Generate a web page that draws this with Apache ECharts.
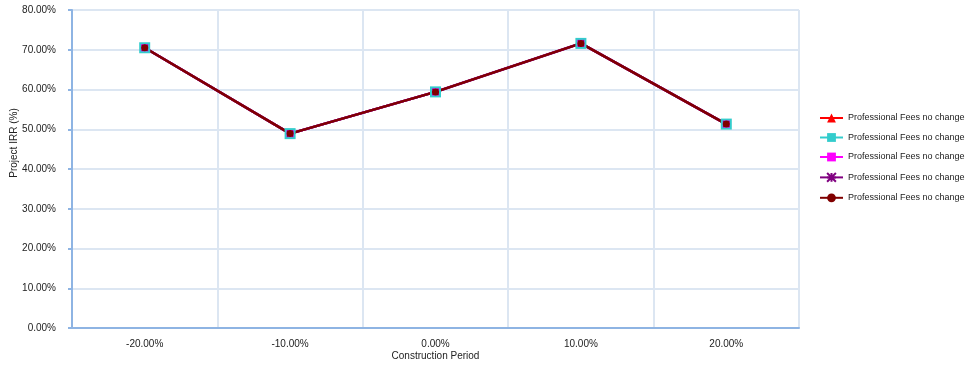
<!DOCTYPE html>
<html><head><meta charset="utf-8">
<script src="https://cdn.jsdelivr.net/npm/echarts@6/dist/echarts.min.js"></script>
<style>html,body{margin:0;padding:0;background:#fff;overflow:hidden}#c{width:971px;height:366px}</style>
</head><body><div id="c"></div>
<script>
const categories = ['-20.00%', '-10.00%', '0.00%', '10.00%', '20.00%'];
const seriesLabel = 'Professional Fees no change';
const s1 = [70.5, 48.9, 59.4, 71.6, 51.3];
const s2 = [70.5, 48.9, 59.4, 71.6, 51.3];
const s3 = [70.5, 48.9, 59.4, 71.6, 51.3];
const s4 = [70.5, 48.9, 59.4, 71.6, 51.3];
const s5 = [70.5, 48.9, 59.4, 71.6, 51.3];
const colors = ['#ff0000', '#33cccc', '#ff00ff', '#800080', '#800000'];
const symbols = ['triangle', 'rect', 'rect', 'path://M0,0 L10,10 M10,0 L0,10 M5,0 L5,10 M0,5 L10,5', 'circle'];
const sizes = [7, 11, 7, 6, 7];
const data = [s1, s2, s3, s4, s5];
const names = data.map((d, i) => seriesLabel + '\u200b'.repeat(i));

const chart = echarts.init(document.getElementById('c'), null, {renderer: 'canvas'});
const font = 'Liberation Sans, Arial, sans-serif';
chart.setOption({
  animation: false,
  color: colors,
  grid: {left: 72, right: 172, top: 10, bottom: 38, containLabel: false, outerBoundsMode: 'none'},
  legend: {
    orient: 'vertical', left: 814, top: 108.5, itemGap: 10.5, itemWidth: 23, itemHeight: 11,
    textStyle: {fontFamily: font, fontSize: 9, color: '#222'},
    formatter: n => n.replace(/\u200b/g, ''),
    data: names
  },
  xAxis: {
    type: 'category', data: categories, boundaryGap: true,
    name: 'Construction Period', nameLocation: 'middle', nameGap: 23, nameMoveOverlap: false,
    nameTextStyle: {fontFamily: font, fontSize: 10, color: '#222'},
    axisLine: {lineStyle: {color: '#8eb4e3', width: 2}},
    axisTick: {show: false},
    axisLabel: {fontFamily: font, fontSize: 10, color: '#222', margin: 11},
    splitLine: {show: true, interval: 0, lineStyle: {color: '#dce6f2', width: 2}}
  },
  yAxis: {
    type: 'value', min: 0, max: 80, interval: 10,
    name: 'Project IRR (%)', nameLocation: 'middle', nameGap: 53, nameRotate: 90, nameMoveOverlap: false,
    nameTextStyle: {fontFamily: font, fontSize: 10, color: '#222', padding: [0, 0, 0, 52]},
    axisLine: {show: true, lineStyle: {color: '#8eb4e3', width: 2}},
    axisTick: {show: true, length: 4, lineStyle: {color: '#8eb4e3', width: 2}},
    axisLabel: {fontFamily: font, fontSize: 10, color: '#222', margin: 16, formatter: v => v.toFixed(2) + '%'},
    splitLine: {show: true, lineStyle: {color: '#dce6f2', width: 2}}
  },
  series: data.map((d, i) => ({
    name: names[i], type: 'line', data: d,
    symbol: symbols[i], symbolSize: sizes[i], showAllSymbol: true,
    lineStyle: {color: colors[i], width: 2.5},
    itemStyle: {color: colors[i], borderColor: colors[i], borderWidth: i === 3 ? 1.5 : 0}
  }))
});
</script></body></html>
